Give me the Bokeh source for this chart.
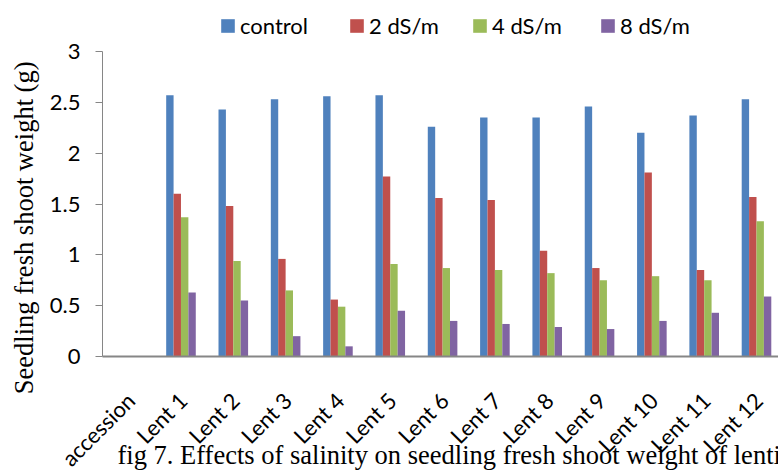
import math
from bokeh.plotting import figure
from bokeh.models import (Range1d, FixedTicker, Legend, LegendItem, Label, LabelSet,
                          ColumnDataSource)
from bokeh.core.properties import value
from bokeh.embed import file_html
from bokeh.resources import INLINE

# Seedling fresh shoot weight (g) per accession and salinity level
categories = ["accession", "Lent 1", "Lent 2", "Lent 3", "Lent 4", "Lent 5", "Lent 6",
              "Lent 7", "Lent 8", "Lent 9", "Lent 10", "Lent 11", "Lent 12"]
control = [None, 2.57, 2.43, 2.53, 2.56, 2.57, 2.26, 2.35, 2.35, 2.46, 2.20, 2.37, 2.53]
ds2 = [None, 1.60, 1.48, 0.96, 0.56, 1.77, 1.56, 1.54, 1.04, 0.87, 1.81, 0.85, 1.57]
ds4 = [None, 1.37, 0.94, 0.65, 0.49, 0.91, 0.87, 0.85, 0.82, 0.75, 0.79, 0.75, 1.33]
ds8 = [None, 0.63, 0.55, 0.20, 0.10, 0.45, 0.35, 0.32, 0.29, 0.27, 0.35, 0.43, 0.59]
series_names = ["control", "2 dS/m", "4 dS/m", "8 dS/m"]
series_colors = ["#4F81BD", "#C0504D", "#9BBB59", "#8064A2"]
y_ticks = [0, 0.5, 1, 1.5, 2, 2.5, 3]
y_tick_labels = ["0", "0.5", "1", "1.5", "2", "2.5", "3"]

SANS = "Lato"
SERIF = "Liberation Serif"
W, H = 778, 470

# plot area inside the canvas (pixels): value axis from 0 to 3
AX_LEFT, AX_BOTTOM, AX_TOP = 102, 356, 51
PX_PER_CAT = 52.32
px_per_unit_y = (AX_BOTTOM - AX_TOP) / 3.0

x_start = -AX_LEFT / PX_PER_CAT
x_end = (W - AX_LEFT) / PX_PER_CAT
y_start = -(H - AX_BOTTOM) / px_per_unit_y
y_end = 3 + AX_TOP / px_per_unit_y

centers = [i + 0.5 for i in range(len(categories))]
bar_w = 0.1414

p = figure(width=W, height=H, x_range=Range1d(x_start, x_end), y_range=Range1d(y_start, y_end),
           output_backend="svg", toolbar_location=None,
           min_border_left=0, min_border_right=0, min_border_top=0, min_border_bottom=0)
p.outline_line_color = None
p.xgrid.grid_line_color = None
p.ygrid.grid_line_color = None
p.background_fill_color = "white"
p.border_fill_color = "white"

renderers = []
for k, (vals, color) in enumerate(zip([control, ds2, ds4, ds8], series_colors)):
    off = (k - 1.5) * bar_w
    xs = [c + off for c, v in zip(centers, vals) if v is not None]
    tops = [v for v in vals if v is not None]
    src = ColumnDataSource(dict(x=xs, top=tops))
    r = p.vbar(x="x", top="top", width=bar_w, bottom=0, source=src,
               fill_color=color, line_color=None)
    renderers.append(r)

# value axis
ya = p.yaxis[0]
ya.fixed_location = 0
ya.bounds = (0, 3)
ya.ticker = FixedTicker(ticks=y_ticks)
ya.major_label_overrides = {t: s for t, s in zip(y_ticks, y_tick_labels)}
ya.major_label_text_font = SANS
ya.major_label_text_font_size = "22px"
ya.major_label_text_color = "#000000"
ya.major_tick_out = 7
ya.major_tick_in = 0
ya.minor_tick_line_color = None
ya.major_tick_line_color = "#868686"
ya.axis_line_color = "#868686"
ya.major_label_standoff = 15

# category axis line
xa = p.xaxis[0]
xa.fixed_location = 0
xa.bounds = (0, x_end)
xa.ticker = FixedTicker(ticks=[])
xa.major_tick_line_color = None
xa.minor_tick_line_color = None
xa.axis_line_color = "#868686"
xa.axis_line_width = 2

# category names, slanted and end-aligned under each group
cat_src = ColumnDataSource(dict(x=centers, text=categories))
p.add_layout(LabelSet(x="x", y=H - 396, y_units="screen", text="text", source=cat_src,
                      angle=math.pi / 4, text_align="right", text_baseline="middle",
                      x_offset=2, text_font=value(SANS), text_font_size=value("22px"),
                      text_color="#000000"))

# value axis title
p.add_layout(Label(x=23, y=H - 224, x_units="screen", y_units="screen",
                   text="Seedling fresh shoot  weight (g)", angle=math.pi / 2,
                   text_align="center", text_baseline="middle",
                   text_font=SERIF, text_font_size="26.5px", text_color="#000000"))

# caption
p.add_layout(Label(x=117, y=H - 454, x_units="screen", y_units="screen",
                   text="fig 7. Effects of salinity on seedling fresh shoot weight of lentil",
                   text_align="left", text_baseline="middle",
                   text_font=SERIF, text_font_size="26.5px", text_color="#000000"))

# legend entries across the top
legend_x = [219, 348, 471, 599]
for name, r, lx in zip(series_names, renderers, legend_x):
    lg = Legend(items=[LegendItem(label=name, renderers=[r])], location=(lx, H - 39),
                orientation="horizontal", glyph_width=17, glyph_height=17,
                label_standoff=4, padding=0, margin=0, spacing=0,
                border_line_color=None, background_fill_alpha=0,
                label_text_font=SANS, label_text_font_size="22px",
                label_text_color="#000000", label_height=17)
    p.add_layout(lg, "center")

open("out.html", "w").write(file_html(p, INLINE))
